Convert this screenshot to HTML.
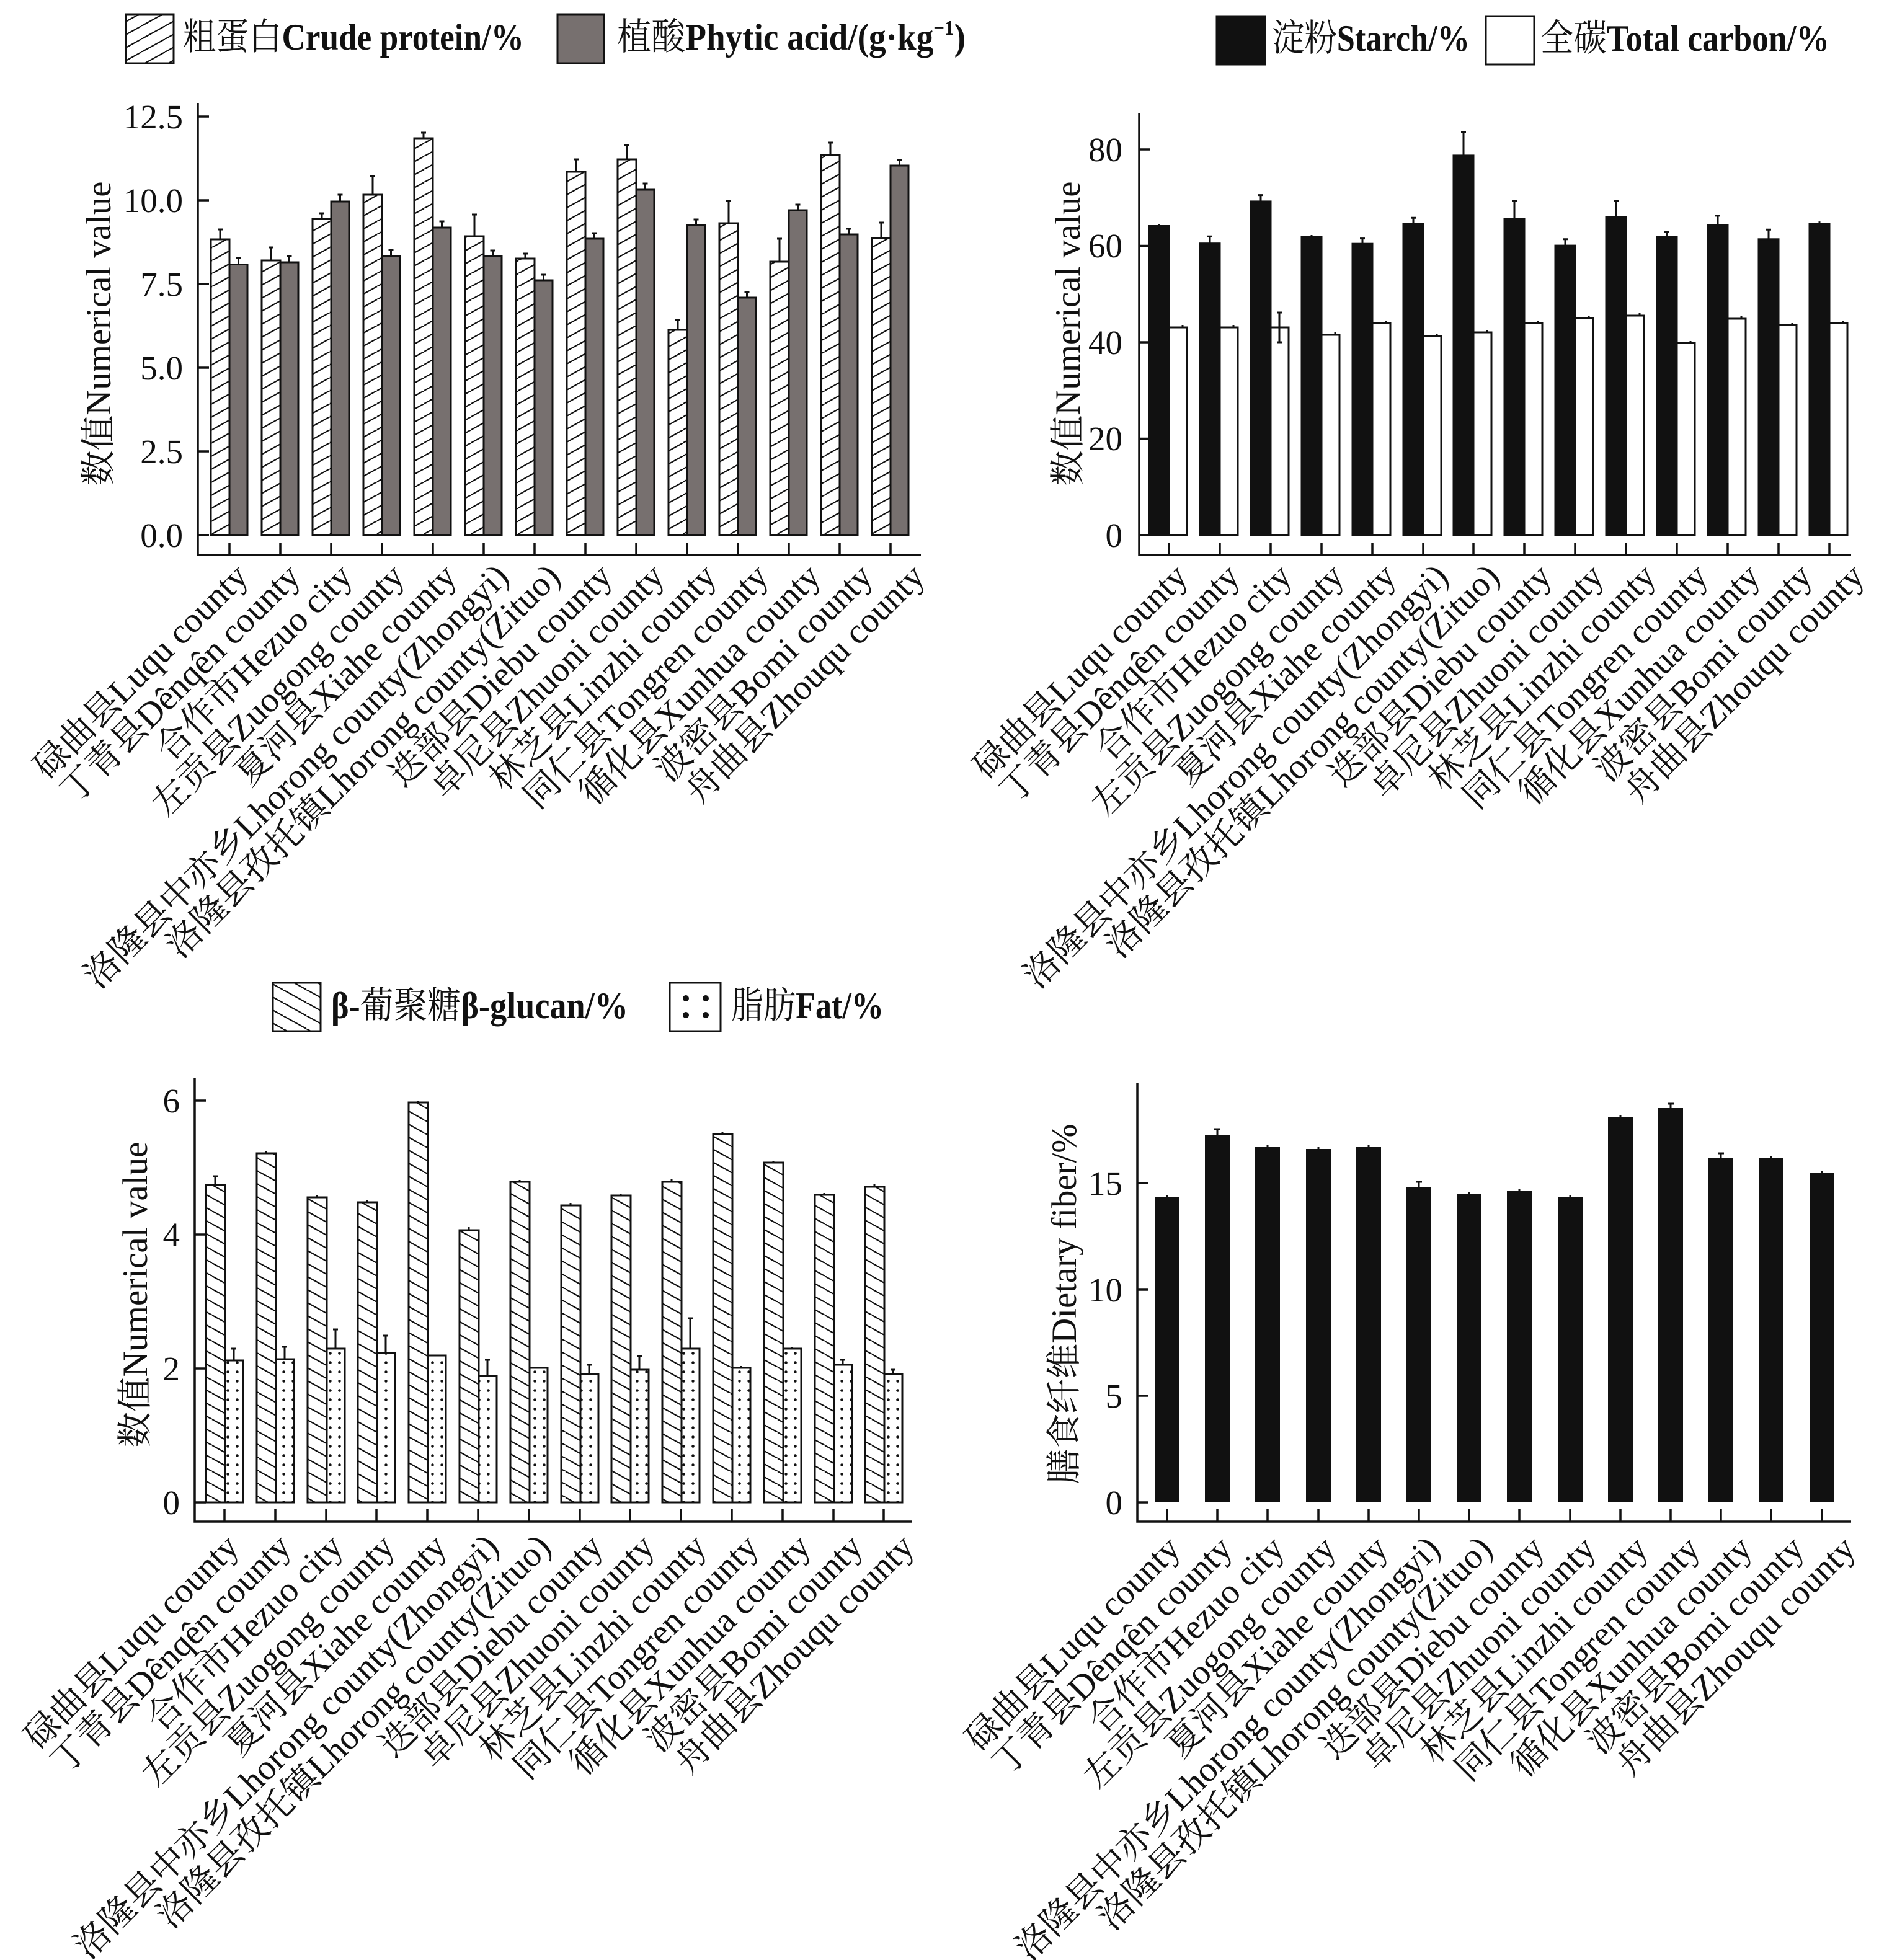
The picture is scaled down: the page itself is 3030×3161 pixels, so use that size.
<!DOCTYPE html>
<html><head><meta charset="utf-8"><style>
html,body{margin:0;padding:0;background:#fff}
svg{display:block}
.lab{font-family:"Liberation Serif","Noto Serif CJK SC",serif;font-size:57px;fill:#111}
.tk{font-family:"Liberation Serif",serif;font-size:55px;fill:#111;text-anchor:end}
.yl{font-family:"Liberation Serif","Noto Serif CJK SC",serif;font-size:57px;fill:#111;text-anchor:middle}
.lg{font-family:"Liberation Serif","Noto Serif CJK SC",serif;font-size:60px;font-weight:bold;fill:#111}
.cj{font-weight:normal}
.ax{stroke:#111;stroke-width:3.5;fill:none}
.bo{stroke:#111;stroke-width:3}
.er{stroke:#111;stroke-width:3;fill:none}
</style></head><body>
<svg width="3030" height="3161" viewBox="0 0 3030 3161" xmlns="http://www.w3.org/2000/svg">
<defs>
<pattern id="hf" patternUnits="userSpaceOnUse" width="38" height="21"><path d="M-38,21L0,0M0,21L38,0M38,21L76,0" stroke="#111" stroke-width="2.2"/></pattern>
<pattern id="hb" patternUnits="userSpaceOnUse" width="38" height="21"><path d="M-38,0L0,21M0,0L38,21M38,0L76,21" stroke="#111" stroke-width="2.2"/></pattern>
<pattern id="dt" patternUnits="userSpaceOnUse" width="15" height="15"><circle cx="7.5" cy="7.5" r="2.3" fill="#111"/></pattern>
</defs>
<rect width="3030" height="3161" fill="#fff"/>

<!-- ============ TOP-LEFT ============ -->
<rect x="203" y="23" width="77" height="79" fill="url(#hf)" class="bo" stroke-width="4"/>
<text class="lg" x="295" y="80" textLength="550" lengthAdjust="spacingAndGlyphs"><tspan class="cj">粗蛋白</tspan>Crude protein/%</text>
<rect x="899" y="23" width="75" height="79" fill="#77706f" class="bo" stroke-width="4"/>
<text class="lg" x="995" y="80" textLength="562" lengthAdjust="spacingAndGlyphs"><tspan class="cj">植酸</tspan>Phytic acid/(g·kg<tspan font-size="34" dy="-24">−1</tspan><tspan dy="24">)</tspan></text>

<path class="ax" d="M319,166V895H1485"/>
<path class="ax" d="M319,188h18M319,323h18M319,458h18M319,593h18M319,728h18M319,863h18"/>
<path class="ax" d="M370,875V895M452,875V895M534,875V895M616,875V895M698,875V895M780,875V895M862,875V895M944,875V895M1026,875V895M1108,875V895M1190,875V895M1272,875V895M1354,875V895M1436,875V895"/>
<text class="tk" x="295" y="207">12.5</text>
<text class="tk" x="295" y="342">10.0</text>
<text class="tk" x="295" y="477">7.5</text>
<text class="tk" x="295" y="612">5.0</text>
<text class="tk" x="295" y="747">2.5</text>
<text class="tk" x="295" y="882">0.0</text>
<text class="yl" x="0" y="0" transform="translate(178,538) rotate(-90)" textLength="491" lengthAdjust="spacingAndGlyphs">数值Numerical value</text>

<g class="bo" fill="url(#hf)">
<rect x="340" y="386" width="30" height="477"/>
<rect x="422" y="420" width="30" height="443"/>
<rect x="504" y="353" width="30" height="510"/>
<rect x="586" y="314" width="30" height="549"/>
<rect x="668" y="223" width="30" height="640"/>
<rect x="750" y="381" width="30" height="482"/>
<rect x="832" y="417" width="30" height="446"/>
<rect x="914" y="277" width="30" height="586"/>
<rect x="996" y="257" width="30" height="606"/>
<rect x="1078" y="532" width="30" height="331"/>
<rect x="1160" y="360" width="30" height="503"/>
<rect x="1242" y="422" width="30" height="441"/>
<rect x="1324" y="250" width="30" height="613"/>
<rect x="1406" y="384" width="30" height="479"/>
</g>
<g class="bo" fill="#77706f">
<rect x="370" y="426.5" width="29" height="436.5"/>
<rect x="452" y="423" width="29" height="440"/>
<rect x="534" y="325" width="29" height="538"/>
<rect x="616" y="413" width="29" height="450"/>
<rect x="698" y="367" width="29" height="496"/>
<rect x="780" y="413" width="29" height="450"/>
<rect x="862" y="452" width="29" height="411"/>
<rect x="944" y="385" width="29" height="478"/>
<rect x="1026" y="306" width="29" height="557"/>
<rect x="1108" y="363" width="29" height="500"/>
<rect x="1190" y="480" width="29" height="383"/>
<rect x="1272" y="339" width="29" height="524"/>
<rect x="1354" y="378" width="29" height="485"/>
<rect x="1436" y="267" width="29" height="596"/>
</g>
<path class="er" d="M355,386V370M351,370h8M437,420V399M433,399h8M519,353V344M515,344h8M601,314V284M597,284h8M683,223V214M679,214h8M765,381V346M761,346h8M847,417V409M843,409h8M929,277V257M925,257h8M1011,257V234M1007,234h8M1093,532V516M1089,516h8M1175,360V324M1171,324h8M1257,422V385M1253,385h8M1339,250V230M1335,230h8M1421,384V359M1417,359h8"/>
<path class="er" d="M384.5,426.5V416M380.5,416h8M466.5,423V413M462.5,413h8M548.5,325V314M544.5,314h8M630.5,413V403M626.5,403h8M712.5,367V357M708.5,357h8M794.5,413V404M790.5,404h8M876.5,452V443M872.5,443h8M958.5,385V376M954.5,376h8M1040.5,306V296M1036.5,296h8M1122.5,363V354M1118.5,354h8M1204.5,480V471M1200.5,471h8M1286.5,339V330M1282.5,330h8M1368.5,378V369M1364.5,369h8M1450.5,267V258M1446.5,258h8"/>

<g class="lab" text-anchor="end">
<text x="403" y="933" transform="rotate(-45 403 933)">碌曲县Luqu county</text>
<text x="487" y="933" transform="rotate(-45 487 933)">丁青县Dênqên county</text>
<text x="571" y="933" transform="rotate(-45 571 933)">合作市Hezuo city</text>
<text x="655" y="933" transform="rotate(-45 655 933)">左贡县Zuogong county</text>
<text x="739" y="933" transform="rotate(-45 739 933)">夏河县Xiahe county</text>
<text x="823" y="933" transform="rotate(-45 823 933)">洛隆县中亦乡Lhorong county(Zhongyi)</text>
<text x="906" y="933" transform="rotate(-45 906 933)">洛隆县孜托镇Lhorong county(Zituo)</text>
<text x="990" y="933" transform="rotate(-45 990 933)">迭部县Diebu county</text>
<text x="1074" y="933" transform="rotate(-45 1074 933)">卓尼县Zhuoni county</text>
<text x="1158" y="933" transform="rotate(-45 1158 933)">林芝县Linzhi county</text>
<text x="1242" y="933" transform="rotate(-45 1242 933)">同仁县Tongren county</text>
<text x="1326" y="933" transform="rotate(-45 1326 933)">循化县Xunhua county</text>
<text x="1410" y="933" transform="rotate(-45 1410 933)">波密县Bomi county</text>
<text x="1494" y="933" transform="rotate(-45 1494 933)">舟曲县Zhouqu county</text>
</g>

<!-- ============ TOP-RIGHT ============ -->
<rect x="1962" y="26" width="78" height="78" fill="#111" class="bo" stroke-width="4"/>
<text class="lg" x="2051" y="82" textLength="319" lengthAdjust="spacingAndGlyphs"><tspan class="cj">淀粉</tspan>Starch/%</text>
<rect x="2396" y="26" width="78" height="78" fill="#fff" class="bo" stroke-width="4"/>
<text class="lg" x="2484" y="82" textLength="466" lengthAdjust="spacingAndGlyphs"><tspan class="cj">全碳</tspan>Total carbon/%</text>

<path class="ax" d="M1837,183V895H2985"/>
<path class="ax" d="M1837,241h18M1837,396.5h18M1837,552h18M1837,707.5h18M1837,863h18"/>
<path class="ax" d="M1885,875V895M1967,875V895M2049,875V895M2131,875V895M2213,875V895M2295,875V895M2376,875V895M2458,875V895M2540,875V895M2622,875V895M2704,875V895M2786,875V895M2868,875V895M2950,875V895"/>
<text class="tk" x="1810" y="260">80</text>
<text class="tk" x="1810" y="415">60</text>
<text class="tk" x="1810" y="571">40</text>
<text class="tk" x="1810" y="726">20</text>
<text class="tk" x="1810" y="882">0</text>
<text class="yl" x="0" y="0" transform="translate(1741,538) rotate(-90)" textLength="491" lengthAdjust="spacingAndGlyphs">数值Numerical value</text>

<g fill="#111" class="bo">
<rect x="1853" y="364.5" width="32" height="498.5"/>
<rect x="1935" y="392.7" width="32" height="470.3"/>
<rect x="2017" y="324.9" width="32" height="538.1"/>
<rect x="2099" y="381.7" width="32" height="481.3"/>
<rect x="2181" y="393.2" width="32" height="469.8"/>
<rect x="2263" y="360.5" width="32" height="502.5"/>
<rect x="2344" y="250.9" width="32" height="612.1"/>
<rect x="2426" y="353" width="32" height="510"/>
<rect x="2508" y="396.1" width="32" height="466.9"/>
<rect x="2590" y="349.6" width="32" height="513.4"/>
<rect x="2672" y="381.7" width="32" height="481.3"/>
<rect x="2754" y="363.4" width="32" height="499.6"/>
<rect x="2836" y="385.8" width="32" height="477.2"/>
<rect x="2918" y="360.5" width="32" height="502.5"/>
</g>
<g fill="#fff" class="bo">
<rect x="1885" y="528" width="29" height="335"/>
<rect x="1967" y="528" width="29" height="335"/>
<rect x="2049" y="528" width="29" height="335"/>
<rect x="2131" y="540" width="29" height="323"/>
<rect x="2213" y="521" width="29" height="342"/>
<rect x="2295" y="542" width="29" height="321"/>
<rect x="2376" y="536" width="29" height="327"/>
<rect x="2458" y="521" width="29" height="342"/>
<rect x="2540" y="513" width="29" height="350"/>
<rect x="2622" y="509" width="29" height="354"/>
<rect x="2704" y="553" width="29" height="310"/>
<rect x="2786" y="514" width="29" height="349"/>
<rect x="2868" y="524" width="29" height="339"/>
<rect x="2950" y="521" width="29" height="342"/>
</g>
<path class="er" d="M1869,364.5V361.7M1951,392.7V381.2M1947,381.2h8M2033,324.9V314.6M2029,314.6h8M2115,381.7V379M2197,393.2V384.6M2193,384.6h8M2279,360.5V351.3M2275,351.3h8M2360,250.9V213.5M2356,213.5h8M2442,353V324.3M2438,324.3h8M2524,396.1V385.8M2520,385.8h8M2606,349.6V324.3M2602,324.3h8M2688,381.7V374.3M2684,374.3h8M2770,363.4V347.9M2766,347.9h8M2852,385.8V370.3M2848,370.3h8M2934,360.5V357.1"/>
<path class="er" d="M2063,504V552M2059,504h8M2059,552h8M1907,528V524M1989,528V524M2153,540V536M2235,521V517M2317,542V538M2398,536V532M2480,521V517M2562,513V509M2644,509V505M2726,553V550M2808,514V510M2890,524V521M2972,521V517"/>

<g class="lab" text-anchor="end">
<text x="1918" y="933" transform="rotate(-45 1918 933)">碌曲县Luqu county</text>
<text x="2002" y="933" transform="rotate(-45 2002 933)">丁青县Dênqên county</text>
<text x="2086" y="933" transform="rotate(-45 2086 933)">合作市Hezuo city</text>
<text x="2170" y="933" transform="rotate(-45 2170 933)">左贡县Zuogong county</text>
<text x="2254" y="933" transform="rotate(-45 2254 933)">夏河县Xiahe county</text>
<text x="2338" y="933" transform="rotate(-45 2338 933)">洛隆县中亦乡Lhorong county(Zhongyi)</text>
<text x="2421" y="933" transform="rotate(-45 2421 933)">洛隆县孜托镇Lhorong county(Zituo)</text>
<text x="2505" y="933" transform="rotate(-45 2505 933)">迭部县Diebu county</text>
<text x="2589" y="933" transform="rotate(-45 2589 933)">卓尼县Zhuoni county</text>
<text x="2673" y="933" transform="rotate(-45 2673 933)">林芝县Linzhi county</text>
<text x="2757" y="933" transform="rotate(-45 2757 933)">同仁县Tongren county</text>
<text x="2841" y="933" transform="rotate(-45 2841 933)">循化县Xunhua county</text>
<text x="2925" y="933" transform="rotate(-45 2925 933)">波密县Bomi county</text>
<text x="3009" y="933" transform="rotate(-45 3009 933)">舟曲县Zhouqu county</text>
</g>

<!-- ============ BOTTOM-LEFT ============ -->
<rect x="440" y="1585" width="77" height="78" fill="url(#hb)" class="bo" stroke-width="4"/>
<text class="lg" x="534" y="1642" textLength="479" lengthAdjust="spacingAndGlyphs">β-<tspan class="cj">葡聚糖</tspan>β-glucan/%</text>
<rect x="1080" y="1585" width="82" height="78" fill="#fff" class="bo" stroke-width="4"/>
<g fill="#111"><circle cx="1106" cy="1610" r="5"/><circle cx="1138" cy="1610" r="5"/><circle cx="1106" cy="1637" r="5"/><circle cx="1138" cy="1637" r="5"/></g>
<text class="lg" x="1179" y="1642" textLength="246" lengthAdjust="spacingAndGlyphs"><tspan class="cj">脂肪</tspan>Fat/%</text>

<path class="ax" d="M314,1739V2454H1470"/>
<path class="ax" d="M314,1775h18M314,1991h18M314,2207h18M314,2423h18"/>
<path class="ax" d="M362,2434V2454M444,2434V2454M526,2434V2454M607,2434V2454M689,2434V2454M771,2434V2454M853,2434V2454M935,2434V2454M1016,2434V2454M1098,2434V2454M1180,2434V2454M1262,2434V2454M1344,2434V2454M1425,2434V2454"/>
<text class="tk" x="290" y="1794">6</text>
<text class="tk" x="290" y="2010">4</text>
<text class="tk" x="290" y="2226">2</text>
<text class="tk" x="290" y="2442">0</text>
<text class="yl" x="0" y="0" transform="translate(237,2088) rotate(-90)" textLength="493" lengthAdjust="spacingAndGlyphs">数值Numerical value</text>

<g class="bo" fill="url(#hb)">
<rect x="332" y="1911" width="31" height="512"/>
<rect x="414" y="1860" width="31" height="563"/>
<rect x="496" y="1931" width="31" height="492"/>
<rect x="577" y="1939" width="31" height="484"/>
<rect x="659" y="1778" width="31" height="645"/>
<rect x="741" y="1984" width="31" height="439"/>
<rect x="823" y="1906" width="31" height="517"/>
<rect x="905" y="1944" width="31" height="479"/>
<rect x="986" y="1928" width="31" height="495"/>
<rect x="1068" y="1906" width="31" height="517"/>
<rect x="1150" y="1829" width="31" height="594"/>
<rect x="1232" y="1875" width="31" height="548"/>
<rect x="1314" y="1927" width="31" height="496"/>
<rect x="1395" y="1914" width="31" height="509"/>
</g>
<g class="bo" fill="url(#dt)">
<rect x="363" y="2194" width="29" height="229"/>
<rect x="445" y="2192" width="29" height="231"/>
<rect x="527" y="2175" width="29" height="248"/>
<rect x="608" y="2182" width="29" height="241"/>
<rect x="690" y="2186" width="29" height="237"/>
<rect x="772" y="2219" width="29" height="204"/>
<rect x="854" y="2206" width="29" height="217"/>
<rect x="936" y="2216" width="29" height="207"/>
<rect x="1017" y="2209" width="29" height="214"/>
<rect x="1099" y="2175" width="29" height="248"/>
<rect x="1181" y="2206" width="29" height="217"/>
<rect x="1263" y="2175" width="29" height="248"/>
<rect x="1345" y="2201" width="29" height="222"/>
<rect x="1426" y="2216" width="29" height="207"/>
</g>
<path class="er" d="M347,1911V1897M343,1897h8M429,1860V1857M511,1931V1928M592,1939V1936M674,1778V1775M756,1984V1979M838,1906V1903M920,1944V1940M1001,1928V1925M1083,1906V1902M1165,1829V1826M1247,1875V1872M1329,1927V1924M1410,1914V1910"/>
<path class="er" d="M377,2194V2175M373,2175h8M459,2192V2172M455,2172h8M541,2175V2144M537,2144h8M622,2182V2154M618,2154h8M786,2219V2193M782,2193h8M950,2216V2201M946,2201h8M1031,2209V2187M1027,2187h8M1113,2175V2126M1109,2126h8M1195,2206V2203M1277,2175V2172M1359,2201V2193M1355,2193h8M1440,2216V2209M1436,2209h8"/>

<g class="lab" text-anchor="end">
<text x="388" y="2498" transform="rotate(-45 388 2498)">碌曲县Luqu county</text>
<text x="472" y="2498" transform="rotate(-45 472 2498)">丁青县Dênqên county</text>
<text x="556" y="2498" transform="rotate(-45 556 2498)">合作市Hezuo city</text>
<text x="639" y="2498" transform="rotate(-45 639 2498)">左贡县Zuogong county</text>
<text x="723" y="2498" transform="rotate(-45 723 2498)">夏河县Xiahe county</text>
<text x="807" y="2498" transform="rotate(-45 807 2498)">洛隆县中亦乡Lhorong county(Zhongyi)</text>
<text x="891" y="2498" transform="rotate(-45 891 2498)">洛隆县孜托镇Lhorong county(Zituo)</text>
<text x="975" y="2498" transform="rotate(-45 975 2498)">迭部县Diebu county</text>
<text x="1058" y="2498" transform="rotate(-45 1058 2498)">卓尼县Zhuoni county</text>
<text x="1142" y="2498" transform="rotate(-45 1142 2498)">林芝县Linzhi county</text>
<text x="1226" y="2498" transform="rotate(-45 1226 2498)">同仁县Tongren county</text>
<text x="1310" y="2498" transform="rotate(-45 1310 2498)">循化县Xunhua county</text>
<text x="1394" y="2498" transform="rotate(-45 1394 2498)">波密县Bomi county</text>
<text x="1477" y="2498" transform="rotate(-45 1477 2498)">舟曲县Zhouqu county</text>
</g>

<!-- ============ BOTTOM-RIGHT ============ -->
<path class="ax" d="M1834,1747V2454H2985"/>
<path class="ax" d="M1834,1908h18M1834,2080h18M1834,2251h18M1834,2423h18"/>
<path class="ax" d="M1882,2434V2454M1963,2434V2454M2044,2434V2454M2126,2434V2454M2207,2434V2454M2288,2434V2454M2369,2434V2454M2450,2434V2454M2532,2434V2454M2613,2434V2454M2694,2434V2454M2775,2434V2454M2856,2434V2454M2938,2434V2454"/>
<text class="tk" x="1810" y="1927">15</text>
<text class="tk" x="1810" y="2099">10</text>
<text class="tk" x="1810" y="2270">5</text>
<text class="tk" x="1810" y="2442">0</text>
<text class="yl" x="0" y="0" transform="translate(1735,2103) rotate(-90)" textLength="581" lengthAdjust="spacingAndGlyphs">膳食纤维Dietary fiber/%</text>

<g fill="#111">
<rect x="1862" y="1931" width="40" height="492"/>
<rect x="1943" y="1830" width="40" height="593"/>
<rect x="2024" y="1850" width="40" height="573"/>
<rect x="2106" y="1853" width="40" height="570"/>
<rect x="2187" y="1850" width="40" height="573"/>
<rect x="2268" y="1914" width="40" height="509"/>
<rect x="2349" y="1925" width="40" height="498"/>
<rect x="2430" y="1921" width="40" height="502"/>
<rect x="2512" y="1931" width="40" height="492"/>
<rect x="2593" y="1802" width="40" height="621"/>
<rect x="2674" y="1787" width="40" height="636"/>
<rect x="2755" y="1868" width="40" height="555"/>
<rect x="2836" y="1868" width="40" height="555"/>
<rect x="2918" y="1892" width="40" height="531"/>
</g>
<path class="er" d="M1882,1931V1928M1963,1830V1821M1958,1821h10M2044,1850V1847M2126,1853V1850M2207,1850V1847M2288,1914V1906M2283,1906h10M2369,1925V1922M2450,1921V1918M2532,1931V1928M2613,1802V1799M2694,1787V1780M2689,1780h10M2775,1868V1860M2770,1860h10M2856,1868V1865M2938,1892V1889"/>

<g class="lab" text-anchor="end">
<text x="1906" y="2501" transform="rotate(-45 1906 2501)">碌曲县Luqu county</text>
<text x="1990" y="2501" transform="rotate(-45 1990 2501)">丁青县Dênqên county</text>
<text x="2074" y="2501" transform="rotate(-45 2074 2501)">合作市Hezuo city</text>
<text x="2157" y="2501" transform="rotate(-45 2157 2501)">左贡县Zuogong county</text>
<text x="2241" y="2501" transform="rotate(-45 2241 2501)">夏河县Xiahe county</text>
<text x="2325" y="2501" transform="rotate(-45 2325 2501)">洛隆县中亦乡Lhorong county(Zhongyi)</text>
<text x="2409" y="2501" transform="rotate(-45 2409 2501)">洛隆县孜托镇Lhorong county(Zituo)</text>
<text x="2493" y="2501" transform="rotate(-45 2493 2501)">迭部县Diebu county</text>
<text x="2576" y="2501" transform="rotate(-45 2576 2501)">卓尼县Zhuoni county</text>
<text x="2660" y="2501" transform="rotate(-45 2660 2501)">林芝县Linzhi county</text>
<text x="2744" y="2501" transform="rotate(-45 2744 2501)">同仁县Tongren county</text>
<text x="2828" y="2501" transform="rotate(-45 2828 2501)">循化县Xunhua county</text>
<text x="2912" y="2501" transform="rotate(-45 2912 2501)">波密县Bomi county</text>
<text x="2995" y="2501" transform="rotate(-45 2995 2501)">舟曲县Zhouqu county</text>
</g>
</svg>
</body></html>
